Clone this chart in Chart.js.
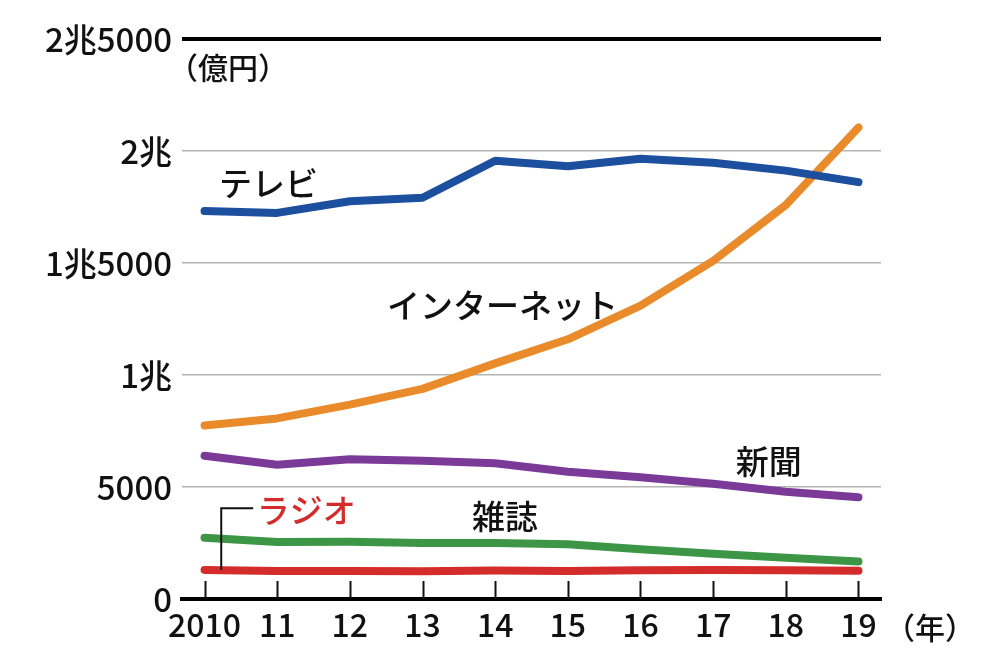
<!DOCTYPE html>
<html>
<head>
<meta charset="utf-8">
<script src="https://cdn.jsdelivr.net/npm/chart.js@4"></script>
<style>
  html, body { margin: 0; padding: 0; background: #fff; }
  #wrap { width: 1000px; height: 663px; position: relative; }
</style>
</head>
<body>
<div id="wrap"><canvas id="c" width="1000" height="663"></canvas></div>
<script>
// ---- data ----
const years = [2010, 2011, 2012, 2013, 2014, 2015, 2016, 2017, 2018, 2019];
const yearLabels = ["2010", "11", "12", "13", "14", "15", "16", "17", "18", "19"];
const tv        = [17321, 17237, 17757, 17913, 19564, 19323, 19657, 19478, 19123, 18612];
const internet  = [7747, 8062, 8680, 9381, 10519, 11594, 13100, 15094, 17589, 21048];
const newspaper = [6396, 5990, 6242, 6170, 6057, 5679, 5431, 5147, 4784, 4547];
const magazine  = [2733, 2542, 2551, 2499, 2500, 2443, 2223, 2023, 1841, 1675];
const radio     = [1299, 1247, 1246, 1243, 1272, 1254, 1285, 1290, 1278, 1260];
const yTickValues = [0, 5000, 10000, 15000, 20000, 25000];
const yTickLabels = ["0", "5000", "1兆", "1兆5000", "2兆", "2兆5000"];
const seriesNames = ["テレビ", "インターネット", "新聞", "雑誌", "ラジオ"];

const FONT = '"Noto Sans CJK JP", "Noto Sans", sans-serif';
const toPts = arr => arr.map((v, i) => ({ x: years[i], y: v }));

// label anchors (data coordinates)
const seriesLabelAnchors = [
  { text: seriesNames[0], x: 2010.20, y: 18540, color: '#111' },
  { text: seriesNames[1], x: 2012.51, y: 13090, color: '#111' },
  { text: seriesNames[2], x: 2017.31, y: 6140,  color: '#111' },
  { text: seriesNames[3], x: 2013.68, y: 3680,  color: '#111' },
  { text: seriesNames[4], x: 2010.72, y: 3940,  color: '#d42b2b' }
];

const decorPlugin = {
  id: 'decor',
  afterDatasetsDraw(chart) {
    const ctx = chart.ctx;
    const xs = chart.scales.x, ys = chart.scales.y;
    ctx.save();
    // tick marks inside the plot
    ctx.strokeStyle = '#111';
    ctx.lineWidth = 2;
    const y0 = ys.getPixelForValue(0);
    years.forEach(yr => {
      const px = Math.round(xs.getPixelForValue(yr)) + 0.5;
      ctx.beginPath();
      ctx.moveTo(px, y0);
      ctx.lineTo(px, y0 - 18);
      ctx.stroke();
    });
    // radio callout
    ctx.lineWidth = 2;
    ctx.beginPath();
    ctx.moveTo(xs.getPixelForValue(2010.23), ys.getPixelForValue(1300));
    ctx.lineTo(xs.getPixelForValue(2010.23), ys.getPixelForValue(4050));
    ctx.lineTo(xs.getPixelForValue(2010.67), ys.getPixelForValue(4050));
    ctx.stroke();
    // series labels
    ctx.font = '500 33px ' + FONT;
    ctx.textBaseline = 'middle';
    ctx.textAlign = 'left';
    seriesLabelAnchors.forEach(l => {
      ctx.fillStyle = l.color;
      ctx.fillText(l.text, xs.getPixelForValue(l.x), ys.getPixelForValue(l.y));
    });
    // unit labels
    ctx.fillStyle = '#111';
    ctx.font = '500 30px ' + FONT;
    ctx.fillText('（億円）', chart.chartArea.left - 14, ys.getPixelForValue(25000) + 29);
    ctx.fillText('（年）', chart.chartArea.right + 4, y0 + 29);
    ctx.restore();
  }
};

const mk = (label, arr, color) => ({
  label, data: toPts(arr), borderColor: color, backgroundColor: color,
  borderWidth: 8, pointRadius: 0, tension: 0,
  borderCapStyle: 'round', borderJoinStyle: 'round', fill: false
});

new Chart(document.getElementById('c'), {
  type: 'line',
  data: {
    datasets: [
      mk(seriesNames[0], tv, '#1d4f9f'),
      mk(seriesNames[1], internet, '#ea8b2b'),
      mk(seriesNames[2], newspaper, '#7b3a98'),
      mk(seriesNames[3], magazine, '#3c9646'),
      mk(seriesNames[4], radio, '#d42b2b')
    ]
  },
  options: {
    responsive: false,
    animation: false,
    devicePixelRatio: 1,
    layout: { padding: { top: 39, right: 119, left: 0, bottom: 0 } },
    plugins: { legend: { display: false }, tooltip: { enabled: false } },
    scales: {
      x: {
        type: 'linear',
        min: 2009.69, max: 2019.31,
        afterBuildTicks(scale) { scale.ticks = years.map(v => ({ value: v })); },
        afterFit(scale) { scale.height = 64; },
        grid: { display: false, drawTicks: false },
        border: { display: true, color: '#000', width: 4 },
        ticks: {
          autoSkip: false, maxRotation: 0, padding: 7,
          color: '#111', font: { family: FONT, size: 32, weight: '500' },
          callback: (v) => { const i = years.indexOf(v); return i >= 0 ? yearLabels[i] : ''; }
        }
      },
      y: {
        min: 0, max: 25000,
        afterBuildTicks(scale) { scale.ticks = yTickValues.map(v => ({ value: v })); },
        afterFit(scale) { scale.width = 182; },
        border: { display: false },
        grid: {
          drawTicks: false,
          color: c => c.tick.value === 25000 ? '#000' : (c.tick.value === 0 ? 'rgba(0,0,0,0)' : '#b4b4b4'),
          lineWidth: c => c.tick.value === 25000 ? 4 : 1.5
        },
        ticks: {
          padding: 10, color: '#111', font: { family: FONT, size: 33, weight: '500' },
          callback: (v) => { const i = yTickValues.indexOf(v); return i >= 0 ? yTickLabels[i] : ''; }
        }
      }
    }
  },
  plugins: [decorPlugin]
});
</script>
</body>
</html>
